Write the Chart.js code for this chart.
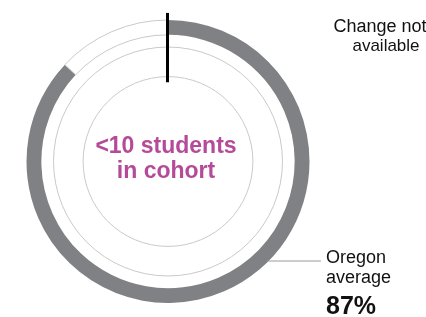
<!DOCTYPE html>
<html>
<head>
<meta charset="utf-8">
<script src="https://cdn.jsdelivr.net/npm/chart.js@4"></script>
<style>
  body { margin: 0; background: #fff; }
  canvas { display: block; }
</style>
</head>
<body>
<canvas id="ring" width="426" height="317"></canvas>
<script>
// données
const categories = ['Oregon average', 'Reste'];
const values = [87, 13];
const centerLabel = ['<10 students', 'in cohort'];
const changeLabel = ['Change not', 'available'];
const avgLabel = ['Oregon', 'average'];

const gris = '#808184';
const filet = '#c9c9c9';
const magenta = '#b54b98';
const police = '"Liberation Sans", Arial, sans-serif';

// cercles fins, repère noir, textes
const decorPlugin = {
    id: 'decor',
    beforeDatasetsDraw(chart) {
        const arc = chart.getDatasetMeta(0).data[0];
        const ctx = chart.ctx;
        ctx.save();
        ctx.strokeStyle = filet;
        ctx.lineWidth = 1;
        [0.809, 0.6].forEach(k => {
            ctx.beginPath();
            ctx.arc(arc.x, arc.y, arc.outerRadius * k, 0, Math.PI * 2);
            ctx.stroke();
        });
        ctx.restore();
    },
    afterDatasetsDraw(chart) {
        const arc = chart.getDatasetMeta(0).data[0];
        const R = arc.outerRadius;
        const ctx = chart.ctx;
        ctx.save();

        // repère vertical noir
        ctx.strokeStyle = '#000';
        ctx.lineWidth = 3;
        ctx.beginPath();
        ctx.moveTo(arc.x - 0.5, arc.y - R * 1.05);
        ctx.lineTo(arc.x - 0.5, arc.y - R * 0.56);
        ctx.stroke();

        // trait vers la légende
        const dy = 99;
        const dx = Math.sqrt(R * R - dy * dy);
        ctx.strokeStyle = '#9a9a9a';
        ctx.lineWidth = 1;
        ctx.beginPath();
        ctx.moveTo(arc.x + dx - 2, arc.y + dy + 0.5);
        ctx.lineTo(321, arc.y + dy + 0.5);
        ctx.stroke();

        // texte central
        ctx.fillStyle = magenta;
        ctx.textAlign = 'center';
        ctx.textBaseline = 'alphabetic';
        ctx.font = 'bold 23px ' + police;
        ctx.fillText(centerLabel[0], arc.x - 2, 153);
        ctx.fillText(centerLabel[1], arc.x - 2, 178);

        // Change not available (coupé par le bord droit)
        ctx.fillStyle = '#111';
        ctx.font = '18px ' + police;
        ctx.fillText(changeLabel[0], 380, 32);
        ctx.font = '17px ' + police;
        ctx.fillText(changeLabel[1], 386, 51);

        // moyenne Oregon
        ctx.textAlign = 'left';
        ctx.font = '18px ' + police;
        ctx.fillText(avgLabel[0], 326, 263);
        ctx.fillText(avgLabel[1], 326, 283);
        ctx.font = 'bold 25px ' + police;
        ctx.fillText(values[0] + '%', 326, 314);
        ctx.restore();
    }
};

const ringChart = new Chart(document.getElementById('ring').getContext('2d'), {
    type: 'doughnut',
    data: {
        labels: categories,
        datasets: [{
            data: values,
            backgroundColor: [gris, '#ffffff'],
            borderColor: [gris, filet],
            borderWidth: [0, 1]
        }]
    },
    options: {
        responsive: false,
        animation: false,
        radius: 141.5,
        cutout: '89.5%',
        layout: { padding: { left: 0, right: 90, top: 6, bottom: 0 } },
        plugins: {
            legend: { display: false },
            tooltip: { enabled: false }
        }
    },
    plugins: [decorPlugin]
});
</script>
</body>
</html>
